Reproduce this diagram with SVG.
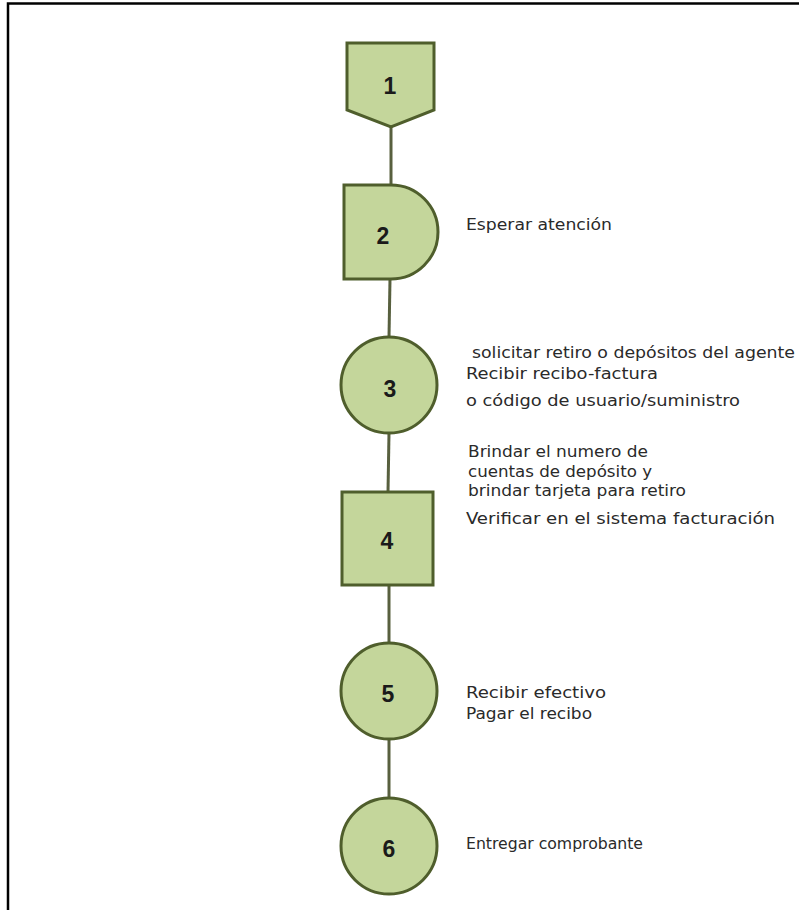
<svg xmlns="http://www.w3.org/2000/svg" width="799" height="910" viewBox="0 0 799 910">
<style>
.shape{fill:#c4d69b;stroke:#4f5e2c;stroke-width:3}
.conn{stroke:#58603f;stroke-width:3;fill:none}
.num{font-family:"Liberation Sans",Arial,sans-serif;font-weight:bold;font-size:23px;fill:#1a1a1a;text-anchor:middle}
.lbl{font-family:"DejaVu Sans","Liberation Sans",sans-serif;font-stretch:condensed;font-size:16px;fill:#2a2a2a}
</style>
<rect x="0" y="0" width="799" height="910" fill="#ffffff"/>
<path d="M8 910 V3.5 H799" fill="none" stroke="#000000" stroke-width="2.5"/>
<g id="connectors">
<line class="conn" x1="391" y1="127" x2="391" y2="185"/>
<line class="conn" x1="390" y1="279" x2="389" y2="337"/>
<line class="conn" x1="389" y1="433" x2="388" y2="492"/>
<line class="conn" x1="389" y1="585" x2="389" y2="643"/>
<line class="conn" x1="389" y1="740" x2="389" y2="798"/>
</g>
<g id="node1">
<path class="shape" d="M347 43 H434 V110 L391 127 L347 110 Z"/>
<text class="num" x="390" y="94">1</text>
</g>
<g id="node2">
<path class="shape" d="M344 185 H391 A47 47 0 0 1 391 279 H344 Z"/>
<text class="num" x="383" y="244">2</text>
<text class="lbl" x="466" y="230" textLength="146" lengthAdjust="spacingAndGlyphs">Esperar atención</text>
</g>
<g id="node3">
<circle class="shape" cx="389" cy="385" r="48"/>
<text class="num" x="390" y="397">3</text>
<text class="lbl" x="472" y="358" textLength="323" lengthAdjust="spacingAndGlyphs">solicitar retiro o depósitos del agente</text>
<text class="lbl" x="466" y="379" textLength="192" lengthAdjust="spacingAndGlyphs">Recibir recibo-factura</text>
<text class="lbl" x="466" y="406" textLength="274" lengthAdjust="spacingAndGlyphs">o código de usuario/suministro</text>
</g>
<g id="node4">
<rect class="shape" x="342" y="492" width="91" height="93"/>
<text class="num" x="387" y="549">4</text>
<text class="lbl" x="468" y="457" textLength="180" lengthAdjust="spacingAndGlyphs">Brindar el numero de</text>
<text class="lbl" x="468" y="477" textLength="184" lengthAdjust="spacingAndGlyphs">cuentas de depósito y</text>
<text class="lbl" x="468" y="496" textLength="218" lengthAdjust="spacingAndGlyphs">brindar tarjeta para retiro</text>
<text class="lbl" x="466" y="524" textLength="309" lengthAdjust="spacingAndGlyphs">Verificar en el sistema facturación</text>
</g>
<g id="node5">
<circle class="shape" cx="389" cy="691" r="48"/>
<text class="num" x="388" y="702">5</text>
<text class="lbl" x="466" y="698" textLength="140" lengthAdjust="spacingAndGlyphs">Recibir efectivo</text>
<text class="lbl" x="466" y="719" textLength="126" lengthAdjust="spacingAndGlyphs">Pagar el recibo</text>
</g>
<g id="node6">
<circle class="shape" cx="389" cy="846" r="48"/>
<text class="num" x="389" y="857">6</text>
<text class="lbl" x="466" y="849" textLength="177" lengthAdjust="spacingAndGlyphs">Entregar comprobante</text>
</g>
</svg>
